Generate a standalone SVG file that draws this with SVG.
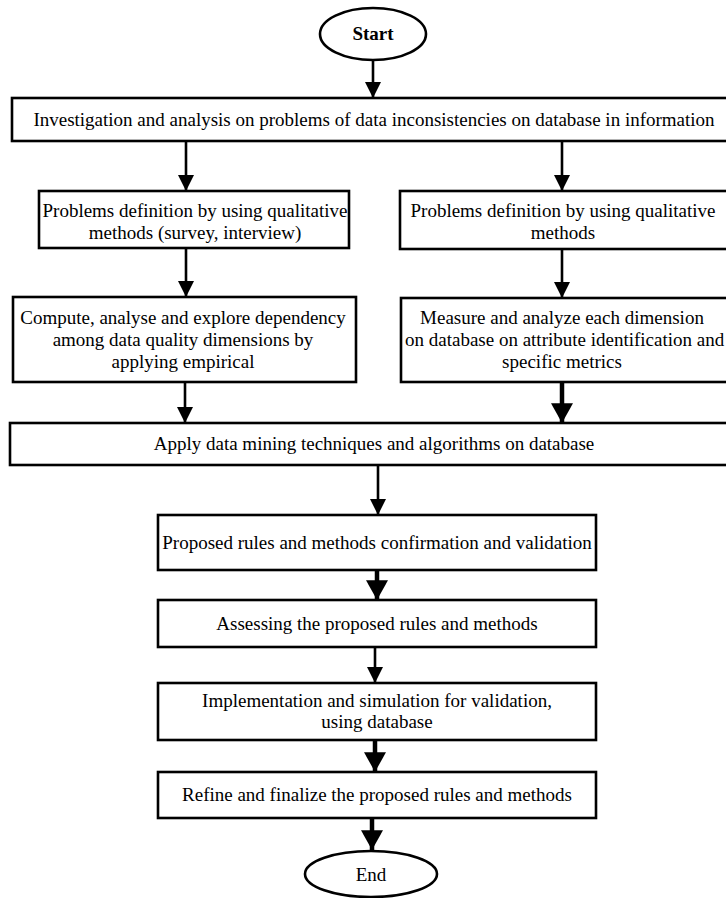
<svg xmlns="http://www.w3.org/2000/svg" width="726" height="898" viewBox="0 0 726 898">
<defs>
<style>
.box{fill:#fff;stroke:#000;stroke-width:2.6}
.t{font-family:"Liberation Serif","Times New Roman",serif;font-size:19px;fill:#000;text-anchor:middle}
.ts{text-anchor:start}
.c{stroke:#000;stroke-width:2.6;fill:none}
.cb{stroke:#000;stroke-width:4.5;fill:none}
</style>
<marker id="ah" markerUnits="userSpaceOnUse" markerWidth="16" markerHeight="16" refX="14" refY="7" orient="auto" viewBox="0 0 14 14"><path d="M0,0 L14,7 L0,14 Z" fill="#000"/></marker>
<marker id="ahb" markerUnits="userSpaceOnUse" markerWidth="20" markerHeight="22" refX="18" refY="10" orient="auto" viewBox="0 0 18 20"><path d="M0,0 L18,10 L0,20 Z" fill="#000"/></marker>
</defs>
<rect width="726" height="898" fill="#fff"/>
<g id="connectors">
<line class="c" x1="373" y1="60" x2="373" y2="98" marker-end="url(#ah)"/>
<line class="c" x1="186" y1="141" x2="186" y2="191" marker-end="url(#ah)"/>
<line class="c" x1="562" y1="141" x2="562" y2="191" marker-end="url(#ah)"/>
<line class="c" x1="186" y1="248" x2="186" y2="297" marker-end="url(#ah)"/>
<line class="c" x1="562" y1="249" x2="562" y2="298" marker-end="url(#ah)"/>
<line class="c" x1="185" y1="382" x2="185" y2="423" marker-end="url(#ah)"/>
<line class="cb" x1="562" y1="382" x2="562" y2="423" marker-end="url(#ahb)"/>
<line class="c" x1="378" y1="465" x2="378" y2="515" marker-end="url(#ah)"/>
<line class="cb" x1="377" y1="570" x2="377" y2="600" marker-end="url(#ahb)"/>
<line class="c" x1="375" y1="647" x2="375" y2="683" marker-end="url(#ah)"/>
<line class="cb" x1="375" y1="740" x2="375" y2="772" marker-end="url(#ahb)"/>
<line class="cb" x1="372" y1="818" x2="372" y2="850" marker-end="url(#ahb)"/>
</g>
<g id="start">
<ellipse class="box" cx="373" cy="34" rx="53" ry="26"/>
<text class="t" x="373" y="40" font-weight="bold">Start</text>
</g>
<g id="n1">
<rect class="box" x="12" y="98" width="718" height="43"/>
<text class="t" x="374" y="126">Investigation and analysis on problems of data inconsistencies on database in information</text>
</g>
<g id="n2l">
<rect class="box" x="39" y="191" width="310" height="57"/>
<text class="t" x="195" y="217">Problems definition by using qualitative</text>
<text class="t" x="195" y="239">methods (survey, interview)</text>
</g>
<g id="n2r">
<rect class="box" x="400" y="191" width="330" height="58"/>
<text class="t" x="563" y="217">Problems definition by using qualitative</text>
<text class="t" x="563" y="239">methods</text>
</g>
<g id="n3l">
<rect class="box" x="13" y="297" width="343" height="85"/>
<text class="t" x="183" y="324">Compute, analyse and explore dependency</text>
<text class="t" x="183" y="346">among data quality dimensions by</text>
<text class="t" x="183" y="368">applying empirical</text>
</g>
<g id="n3r">
<rect class="box" x="401" y="298" width="330" height="84"/>
<text class="t" x="562" y="324">Measure and analyze each dimension</text>
<text class="t ts" x="405" y="346">on database on attribute identification and</text>
<text class="t" x="562" y="368">specific metrics</text>
</g>
<g id="n4">
<rect class="box" x="10" y="423" width="720" height="42"/>
<text class="t" x="374" y="450">Apply data mining techniques and algorithms on database</text>
</g>
<g id="n5">
<rect class="box" x="158" y="515" width="438" height="55"/>
<text class="t" x="377" y="549">Proposed rules and methods confirmation and validation</text>
</g>
<g id="n6">
<rect class="box" x="158" y="600" width="438" height="47"/>
<text class="t" x="377" y="630">Assessing the proposed rules and methods</text>
</g>
<g id="n7">
<rect class="box" x="158" y="683" width="438" height="57"/>
<text class="t" x="377" y="707">Implementation and simulation for validation,</text>
<text class="t" x="377" y="728">using database</text>
</g>
<g id="n8">
<rect class="box" x="158" y="772" width="438" height="46"/>
<text class="t" x="377" y="801">Refine and finalize the proposed rules and methods</text>
</g>
<g id="end">
<ellipse class="box" cx="371" cy="874" rx="66" ry="23"/>
<text class="t" x="371" y="881">End</text>
</g>
</svg>
